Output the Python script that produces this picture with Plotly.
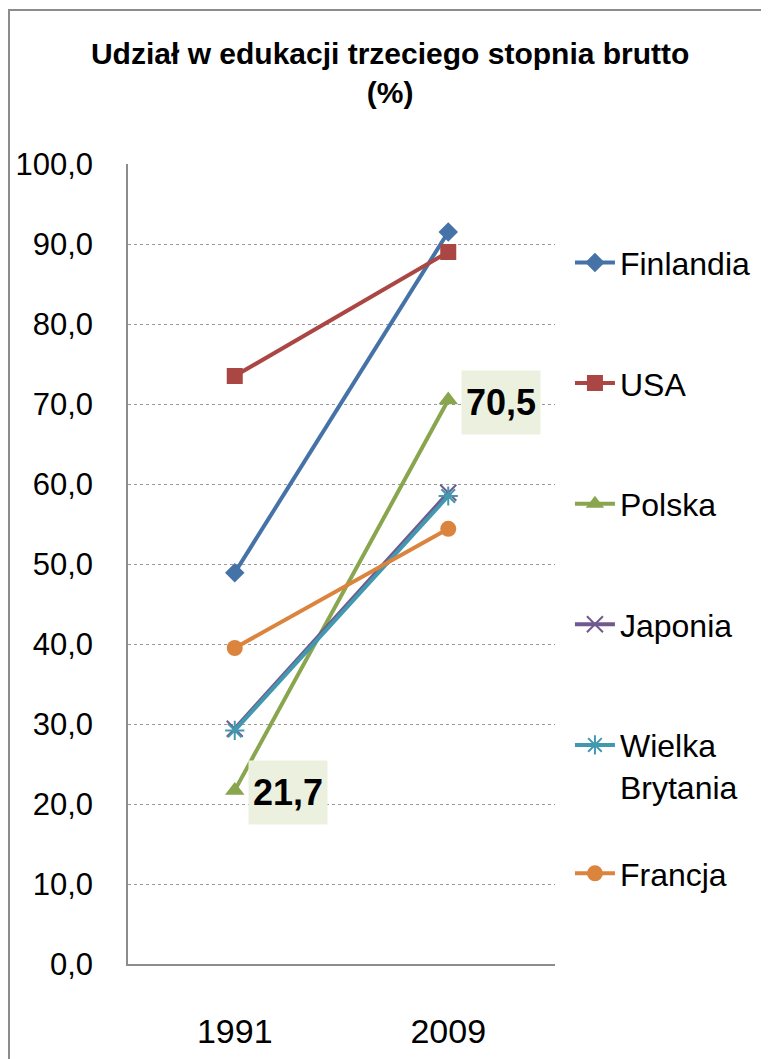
import plotly.graph_objects as go

# Dane
lata = ["1991", "2009"]
kraje = ["Finlandia", "USA", "Polska", "Japonia", "Wielka<br>Brytania", "Francja"]
finlandia = [48.9, 91.5]
usa = [73.5, 89.0]
polska = [21.7, 70.5]
japonia = [29.4, 58.9]
wielka_brytania = [29.2, 58.5]
francja = [39.5, 54.4]

serie = [finlandia, usa, polska, japonia, wielka_brytania, francja]
kolory = ["#4572A7", "#AA4643", "#89A54E", "#71588F", "#4198AF", "#DB843D"]
symbole = ["diamond", "square", "triangle-up", "x-thin-open", "asterisk-open", "circle"]
rozmiary = [15, 16, 17, 16, 16, 16]

FONT = "Liberation Sans, Arial, sans-serif"

fig = go.Figure()
for i, (nazwa, y) in enumerate(zip(kraje, serie)):
    fig.add_trace(go.Scatter(
        x=lata, y=y, name=nazwa, mode="lines+markers",
        line=dict(color=kolory[i], width=4),
        marker=dict(symbol=symbole[i], size=rozmiary[i], color=kolory[i],
                    line=dict(color=kolory[i], width=2 if "open" in symbole[i] else 0)),
        legendgroup=str(i),
        legend="legend2" if nazwa == "Francja" else "legend",
    ))

# Etykiety danych dla Polski (oś kategorii -> indeks)
for idx, v in enumerate(polska):
    fig.add_annotation(
        x=idx, y=v, xref="x", yref="y",
        text="<b>" + f"{v:.1f}".replace(".", ",") + "</b>",
        showarrow=False, xanchor="left", yanchor="middle", xshift=13, yshift=-2,
        width=70, height=55, bgcolor="#EBF1DE", borderpad=4,
        font=dict(family=FONT, size=36, color="black"),
    )

# Ramka całego wykresu
fig.add_shape(type="rect", xref="paper", yref="paper",
              x0=-0.2787, x1=1.53, y0=-0.13, y1=1.1925,
              line=dict(color="#8c8c8c", width=2), fillcolor="rgba(0,0,0,0)")

fig.update_layout(
    width=761, height=1051,
    margin=dict(l=120, r=214, t=156, b=95, autoexpand=False),
    paper_bgcolor="white", plot_bgcolor="white",
    separators=", ",
    font=dict(family=FONT, size=32, color="black"),
    title=dict(
        text="<b>Udział w edukacji trzeciego stopnia brutto<br>(%)</b>",
        x=0.614, xref="paper", xanchor="center",
        y=0.947, yref="container", yanchor="top",
        font=dict(family=FONT, size=30, color="black"),
    ),
    xaxis=dict(type="category", range=[-0.5, 1.5], showgrid=False,
               showline=True, linecolor="#8c8c8c", linewidth=1.5,
               ticks="", ticklabelstandoff=36, tickfont=dict(size=34),
               automargin=False),
    yaxis=dict(range=[0, 100], dtick=10, tickformat=".1f",
               showgrid=True, gridcolor="#9a9a9a", griddash="dot", gridwidth=1,
               showline=True, linecolor="#8c8c8c", linewidth=1.5,
               ticks="", ticklabelstandoff=27, tickfont=dict(size=31),
               zeroline=False, automargin=False),
    showlegend=True,
    legend=dict(x=1.035, xanchor="left", y=0.911, yanchor="top",
                tracegroupgap=76, font=dict(size=32), bgcolor="rgba(0,0,0,0)",
                itemwidth=40, valign="top"),
    legend2=dict(x=1.035, xanchor="left", y=0.1475, yanchor="top",
                 font=dict(size=32), bgcolor="rgba(0,0,0,0)", itemwidth=40,
                 valign="top"),
)

fig.write_html("out.html")
